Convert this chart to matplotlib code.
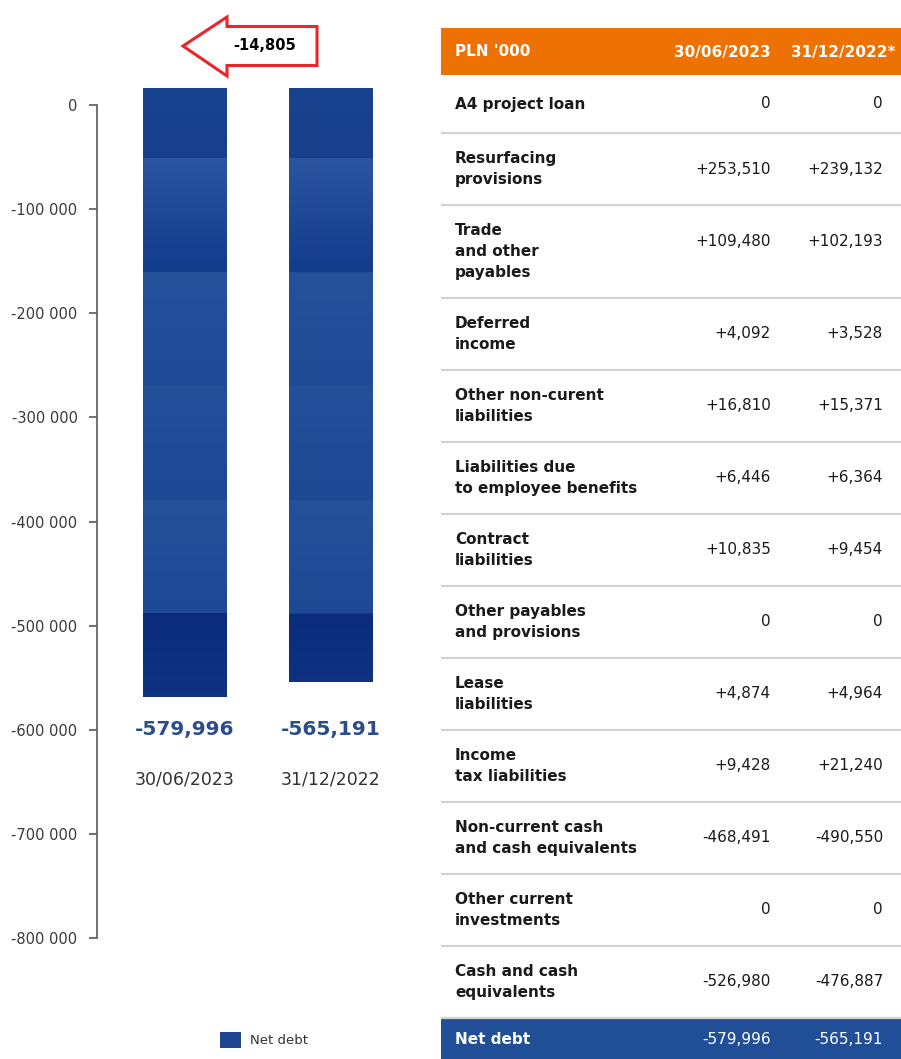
import numpy as np
import matplotlib.pyplot as plt
import matplotlib.transforms as mtransforms
from matplotlib.colors import to_rgb
from matplotlib.patches import Polygon, Rectangle
from matplotlib.ticker import FuncFormatter

plt.rcParams['font.family'] = ['DejaVu Sans']

# chart data
dates = ['30/06/2023', '31/12/2022']
net_debt = [-579996, -565191]

# table data
table_header = ["PLN '000", '30/06/2023', '31/12/2022*']
row_labels = [
    'A4 project loan',
    'Resurfacing\nprovisions',
    'Trade\nand other\npayables',
    'Deferred\nincome',
    'Other non-curent\nliabilities',
    'Liabilities due\nto employee benefits',
    'Contract\nliabilities',
    'Other payables\nand provisions',
    'Lease\nliabilities',
    'Income\ntax liabilities',
    'Non-current cash\nand cash equivalents',
    'Other current\ninvestments',
    'Cash and cash\nequivalents',
]
values_2023 = ['0', '+253,510', '+109,480', '+4,092', '+16,810', '+6,446', '+10,835',
               '0', '+4,874', '+9,428', '-468,491', '0', '-526,980']
values_2022 = ['0', '+239,132', '+102,193', '+3,528', '+15,371', '+6,364', '+9,454',
               '0', '+4,964', '+21,240', '-490,550', '0', '-476,887']
total_label = 'Net debt'

BLUE = '#1d4592'
ROW_BLUE = '#214f97'
ORANGE = '#ee7203'
RED = '#e8262b'
GRID = '#d3d3d3'
W, H = 901, 1059

fig = plt.figure(figsize=(W / 100, H / 100), dpi=100)

# pixel overlay for the table and the arrow
ov = fig.add_axes([0, 0, 1, 1])
ov.set_xlim(0, W)
ov.set_ylim(H, 0)
ov.axis('off')

# value scale (left axis)
ax_s = fig.add_axes([97 / W, 1 - 938 / H, 0.3, 833 / H])
ax_s.set_ylim(-800000, 0)
ax_s.set_yticks(range(-800000, 1, 100000))
ax_s.yaxis.set_major_formatter(FuncFormatter(lambda v, p: f'{int(v):,}'.replace(',', ' ')))
ax_s.tick_params(axis='y', length=6, width=1.3, color='#666666', pad=8,
                 labelsize=10.5, labelcolor='#3a3a3a')
ax_s.set_xticks([])
for s in ['top', 'right', 'bottom']:
    ax_s.spines[s].set_visible(False)
ax_s.spines['left'].set_color('#666666')
ax_s.spines['left'].set_linewidth(1.3)
ax_s.patch.set_alpha(0)

# bars
ax_b = fig.add_axes([97 / W, 1 - 928.3 / H, 333 / W, 840 / H])
ax_b.set_ylim(-800000, 0)
ax_b.set_xlim(-0.599, 1.682)
ax_b.axis('off')
x = list(range(len(dates)))
bars = ax_b.bar(x, net_debt, width=0.572, color=BLUE, align='center')

# banded shading of the bars (decoration only, clipped to each bar)
band_edges = [0, 70, 184, 297, 412, 525, 840]
band_cols = [('#1a438f', '#173f8c'), ('#2b55a0', '#123c8c'), ('#26519b', '#1e4a96'),
             ('#24509a', '#1c4894'), ('#25519b', '#1d4994'), ('#0b2c7c', '#1b4591')]
shade = np.zeros((840, 1, 3))
for (a, b), (ct, cb) in zip(zip(band_edges[:-1], band_edges[1:]), band_cols):
    t = np.linspace(0, 1, b - a)[:, None]
    shade[a:b, 0, :] = (1 - t) * np.array(to_rgb(ct)) + t * np.array(to_rgb(cb))
for bar in bars:
    im = ax_b.imshow(shade, extent=(0, 1, 0, 1), transform=ax_b.transAxes,
                     aspect='auto', interpolation='bilinear', zorder=bar.get_zorder() + 0.1)
    im.set_clip_path(bar)
ax_b.set_xlim(-0.599, 1.682)
ax_b.set_ylim(-800000, 0)

trans = mtransforms.blended_transform_factory(ax_b.transData, ax_b.transAxes)
for i, v in enumerate(net_debt):
    ax_b.text(i, (928.3 - 730) / 840, f'{v:,}', transform=trans, ha='center', va='center',
              fontsize=14.5, fontweight='bold', color='#2b4c8c')
    ax_b.text(i, (928.3 - 779) / 840, dates[i], transform=trans, ha='center', va='center',
              fontsize=12.5, color='#333333')

# change arrow
arrow = Polygon([(183, 46), (227, 17), (227, 26.5), (317, 26.5), (317, 65.5),
                 (227, 65.5), (227, 76)], closed=True, facecolor='white',
                edgecolor=RED, linewidth=2.2, joinstyle='miter')
ov.add_patch(arrow)
diff = net_debt[0] - net_debt[1]
ov.text(265, 46, f'{diff:,}', ha='center', va='center', fontsize=10.5,
        fontweight='bold', color='black')

# legend
fig.legend([bars], ['Net debt'], loc='center left', bbox_to_anchor=(213 / W, 1 - 1040 / H),
           frameon=False, fontsize=9.5, handlelength=1.6, handleheight=1.6,
           handletextpad=0.7, borderpad=0, labelcolor='#333333')

# table
tx0, tx1 = 441, W
c1, c2 = 771, 883
ov.add_patch(Rectangle((tx0, 28.3), tx1 - tx0, 75 - 28.3, color=ORANGE, lw=0))
ov.text(455, 52, table_header[0], ha='left', va='center', fontsize=11,
        fontweight='bold', color='white')
ov.text(c1, 52, table_header[1], ha='right', va='center', fontsize=11,
        fontweight='bold', color='white')
ov.text(895, 52, table_header[2], ha='right', va='center', fontsize=11,
        fontweight='bold', color='white')

y = 75
line_h = 21
for lab, v1, v2 in zip(row_labels, values_2023, values_2022):
    lines = lab.split('\n')
    n = len(lines)
    h = max(58, 30 + 21 * n)
    yc = y + h / 2
    first = yc - (n - 1) / 2 * line_h
    for k, ln in enumerate(lines):
        ov.text(455, first + k * line_h, ln, ha='left', va='center', fontsize=11,
                fontweight='bold', color='#1a1a1a')
    vy = first + (min(n, 2) - 1) * line_h / 2
    ov.text(c1, vy, v1, ha='right', va='center', fontsize=11, color='#1a1a1a')
    ov.text(c2, vy, v2, ha='right', va='center', fontsize=11, color='#1a1a1a')
    y += h
    ov.plot([tx0, tx1], [y, y], color=GRID, lw=1.6, solid_capstyle='butt')

ov.add_patch(Rectangle((tx0, y + 1), tx1 - tx0, H - y, color=ROW_BLUE, lw=0))
ny = (y + 1 + H) / 2
ov.text(455, ny, total_label, ha='left', va='center', fontsize=11,
        fontweight='bold', color='white')
ov.text(c1, ny, f'{net_debt[0]:,}', ha='right', va='center', fontsize=11, color='white')
ov.text(c2, ny, f'{net_debt[1]:,}', ha='right', va='center', fontsize=11, color='white')

fig.savefig('out.png', dpi=100)
